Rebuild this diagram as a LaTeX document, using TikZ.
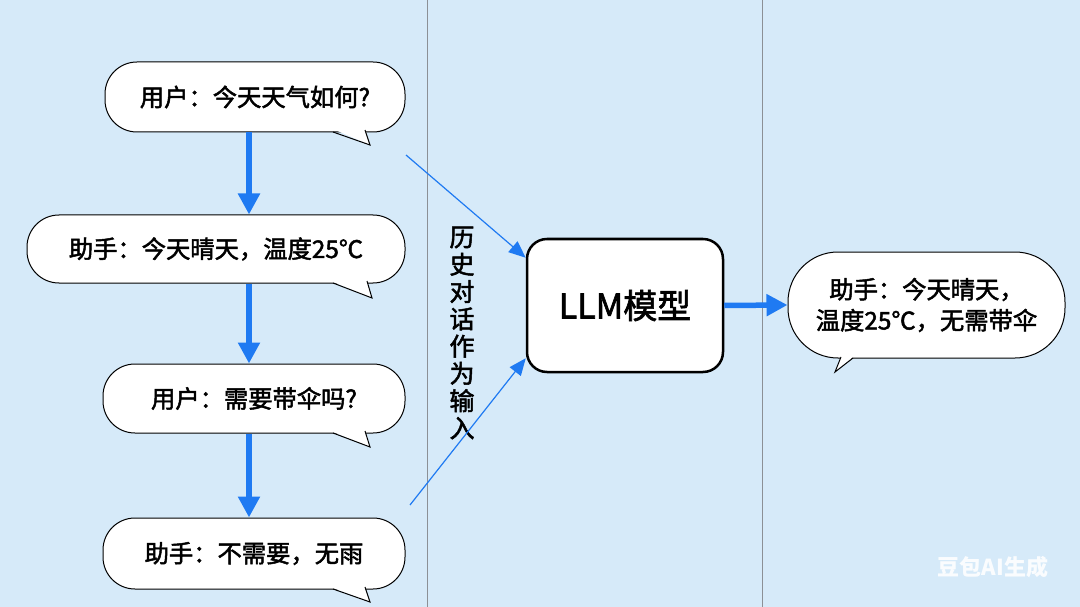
\documentclass[tikz,border=0pt]{standalone}
\usepackage{fontspec}
\setmainfont{Noto Sans CJK SC}
\newfontfamily\medfont{Noto Sans CJK SC}[FakeBold=2]
\usetikzlibrary{arrows.meta,calc}
\definecolor{bg}{HTML}{D6EAF9}
\definecolor{arrowblue}{HTML}{1F7AF2}
\definecolor{divider}{HTML}{8C9096}
\begin{document}
\begin{tikzpicture}[x=1pt,y=-1pt,
  bubble/.style={draw=black, line width=1pt, fill=white, rounded corners=32pt, inner sep=0pt,
    font=\medfont\fontsize{24.3}{31}\selectfont, align=center},
  tailline/.style={draw=black, line width=1pt, line join=miter},
  flowarrow/.style={arrowblue, line width=5.5pt, -{Triangle[length=21pt,width=21pt]}},
  inarrow/.style={arrowblue, line width=1.2pt, -{Triangle[length=17pt,width=14pt]}},
  dividerline/.style={divider, line width=1pt},
]
\useasboundingbox (0,0) rectangle (1080,607);
\fill[bg] (0,0) rectangle (1080,607);

% dividers
\draw[dividerline] (427,0) -- (427,607);
\draw[dividerline] (762,0) -- (762,607);

% bubbles
\node[bubble, minimum width=300pt, minimum height=70pt] (b1) at (255,97) {用户：今天天气如何?};
\fill[white] (333,129) -- (370,145) -- (365,129) -- cycle;
\draw[tailline] (333,132) -- (370,145) -- (365,130);

\node[bubble, minimum width=378pt, minimum height=68pt] (b2) at (216,249) {助手：今天晴天，温度25℃};
\fill[white] (333,282) -- (372,298) -- (367,282) -- cycle;
\draw[tailline] (333,283) -- (372,298) -- (367,281);

\node[bubble, minimum width=302pt, minimum height=69pt] (b3) at (254,398.5) {用户：需要带伞吗?};
\fill[white] (333,432) -- (370,447) -- (365,432) -- cycle;
\draw[tailline] (333,433) -- (370,447) -- (365,431);

\node[bubble, minimum width=302pt, minimum height=71pt] (b4) at (254,553.5) {助手：不需要，无雨};
\fill[white] (333,588) -- (370,602) -- (365,588) -- cycle;
\draw[tailline] (333,589) -- (370,602) -- (365,587);

% LLM box
\node[draw=black, line width=2.5pt, rounded corners=20pt, fill=white, minimum width=196pt,
  minimum height=133pt, font=\medfont\fontsize{34}{38}\selectfont] (llm) at (625,305.5) {LLM模型};

% right bubble
\node[bubble, rounded corners=50pt, minimum width=277pt, minimum height=106pt] (rb) at (926.5,305)
  {助手：今天晴天，\\温度25℃，无需带伞};
\fill[white] (853,357) -- (835,372) -- (841,357) -- cycle;
\draw[tailline] (853,358) -- (835,372) -- (841,357);

% vertical label
\node[font=\medfont\fontsize{25}{27.3}\selectfont, align=center, inner sep=0pt] (vt) at (462,333)
  {历\\史\\对\\话\\作\\为\\输\\入};

% flow arrows
\coordinate (ax) at (249,0);
\draw[flowarrow] (ax |- b1.south) -- (ax |- b2.north);
\draw[flowarrow] (ax |- b2.south) -- (ax |- b3.north);
\draw[flowarrow] (ax |- b3.south) -- (ax |- b4.north);
\draw[flowarrow] (llm.east) -- (rb.west);

% input arrows
\coordinate (s1) at (406,155);
\coordinate (s2) at (410,505);
\draw[inarrow] (s1) -- ($(llm.north west)+(0,20)$);
\draw[inarrow] (s2) -- ($(llm.south west)+(0,-15)$);

% watermark
\node[text=white, opacity=0.9, font=\fontsize{22}{24}\selectfont\bfseries] (wm) at (993,567) {豆包AI生成};
\end{tikzpicture}
\end{document}
